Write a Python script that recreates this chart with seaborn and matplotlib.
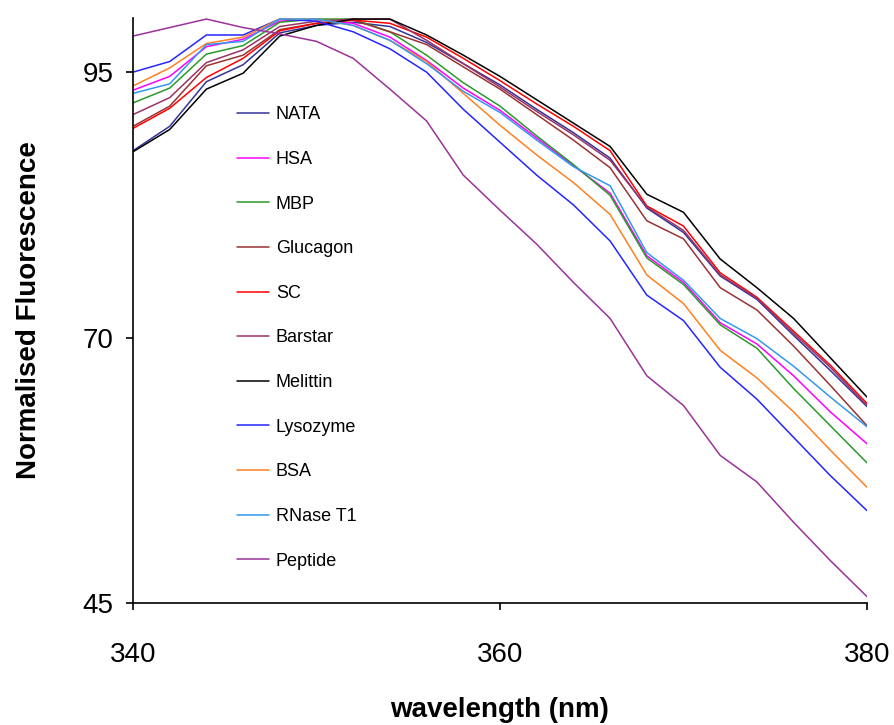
import matplotlib
matplotlib.use("Agg")
import matplotlib.pyplot as plt
import seaborn as sns
import pandas as pd

wavelength = [340, 342, 344, 346, 348, 350, 352, 354, 356, 358, 360,
              362, 364, 366, 368, 370, 372, 374, 376, 378, 380]

nata     = [87.6, 89.9, 94.1, 95.7, 98.7, 99.4, 99.7, 99.3, 97.8, 95.8, 93.8, 91.5, 89.3, 86.9, 82.2, 79.9, 75.8, 73.6, 70.2, 66.9, 63.5]
hsa      = [93.3, 94.6, 97.4, 98.1, 99.8, 100.0, 99.6, 98.3, 96.1, 93.5, 91.4, 88.8, 86.2, 83.6, 77.7, 75.2, 71.4, 69.4, 66.4, 63.0, 60.0]
mbp      = [92.1, 93.5, 96.7, 97.5, 99.7, 100.0, 100.0, 98.8, 96.6, 94.0, 91.8, 89.0, 86.3, 83.4, 77.5, 75.0, 71.2, 69.0, 65.2, 61.7, 58.2]
glucagon = [89.9, 91.8, 95.6, 96.6, 99.0, 99.6, 99.9, 98.8, 97.6, 95.5, 93.4, 91.0, 88.6, 86.0, 81.0, 79.3, 74.7, 72.6, 69.2, 65.5, 61.7]
sc       = [89.7, 91.6, 94.5, 96.3, 98.9, 99.6, 99.9, 99.6, 98.3, 96.3, 94.2, 92.0, 89.9, 87.6, 82.4, 80.5, 76.1, 73.8, 70.6, 67.4, 63.8]
barstar  = [91.0, 92.6, 95.9, 97.1, 99.3, 99.8, 100.0, 100.0, 98.0, 95.8, 93.6, 91.3, 89.1, 86.7, 82.3, 80.1, 75.9, 73.7, 70.4, 67.2, 63.6]
melittin = [87.5, 89.6, 93.4, 94.9, 98.4, 99.4, 100.0, 100.0, 98.5, 96.6, 94.6, 92.4, 90.2, 88.0, 83.5, 81.8, 77.4, 74.7, 71.8, 68.1, 64.4]
lysozyme = [95.0, 96.0, 98.5, 98.5, 100.0, 99.8, 98.8, 97.2, 95.0, 91.5, 88.4, 85.3, 82.5, 79.1, 74.0, 71.6, 67.2, 64.2, 60.6, 57.0, 53.7]
bsa      = [93.7, 95.4, 97.7, 98.3, 100.0, 100.0, 99.4, 98.0, 96.0, 93.0, 90.0, 87.2, 84.6, 81.6, 75.9, 73.2, 68.8, 66.2, 63.0, 59.4, 55.9]
rnase_t1 = [93.0, 93.9, 97.6, 97.9, 100.0, 100.0, 99.4, 98.0, 95.8, 93.2, 91.2, 88.6, 86.1, 84.3, 78.0, 75.4, 71.8, 69.9, 67.3, 64.4, 61.6]
peptide  = [98.4, 99.2, 100.0, 99.2, 98.6, 97.9, 96.3, 93.4, 90.4, 85.3, 82.0, 78.8, 75.2, 71.8, 66.4, 63.6, 58.9, 56.4, 52.6, 49.0, 45.6]

names = ["NATA", "HSA", "MBP", "Glucagon", "SC", "Barstar", "Melittin",
         "Lysozyme", "BSA", "RNase T1", "Peptide"]
series = [nata, hsa, mbp, glucagon, sc, barstar, melittin,
          lysozyme, bsa, rnase_t1, peptide]
colors = ["#333399", "#FF00FF", "#2A9A2A", "#993333", "#FF0000", "#993366",
          "#000000", "#2525FF", "#FF8020", "#3399EE", "#993399"]

x_ticks = [340, 360, 380]
y_ticks = [45, 70, 95]

rows = []
for n, vals in zip(names, series):
    for w, v in zip(wavelength, vals):
        rows.append({"wavelength": w, "value": v, "protein": n})
df = pd.DataFrame(rows)

sns.set_style("white")
plt.rcParams["font.family"] = ["Liberation Sans", "DejaVu Sans"]
plt.rcParams["text.color"] = "black"
plt.rcParams["axes.labelcolor"] = "black"
plt.rcParams["xtick.color"] = "black"
plt.rcParams["ytick.color"] = "black"

fig = plt.figure(figsize=(8.95, 7.25), dpi=100)
ax = fig.add_axes([133 / 895, 1 - 603 / 725, 734 / 895, 585 / 725])

sns.lineplot(data=df, x="wavelength", y="value", hue="protein",
             hue_order=names, palette=dict(zip(names, colors)),
             linewidth=1.1, ax=ax, legend=True)

ax.set_xlim(340, 380)
ax.set_ylim(45, 100.1)
ax.set_xticks(x_ticks)
ax.set_yticks(y_ticks)
for s in ["top", "right"]:
    ax.spines[s].set_visible(False)
for s in ["left", "bottom"]:
    ax.spines[s].set_color("black")
    ax.spines[s].set_linewidth(1.2)

ax.tick_params(axis="both", which="major", direction="out", length=5,
               width=1.2, color="black", labelcolor="black", labelsize=20,
               bottom=True, left=True)
ax.tick_params(axis="x", pad=23)
ax.tick_params(axis="y", pad=9)

ax.set_xlabel("wavelength (nm)", fontsize=20, fontweight="bold", color="black")
ax.set_ylabel("Normalised Fluorescence", fontsize=20, fontweight="bold", color="black")
ax.xaxis.set_label_coords(0.5, -0.160)
ax.yaxis.set_label_coords(-0.124, 0.5)

leg = ax.legend(loc="center left", bbox_to_anchor=(0.1417, 0.453),
                frameon=False, fontsize=13, handlelength=1.75,
                handletextpad=0.4, labelspacing=1.53, borderpad=0,
                borderaxespad=0)
for t in leg.get_texts():
    t.set_color("black")

fig.savefig("out.png", dpi=100, facecolor="white")
